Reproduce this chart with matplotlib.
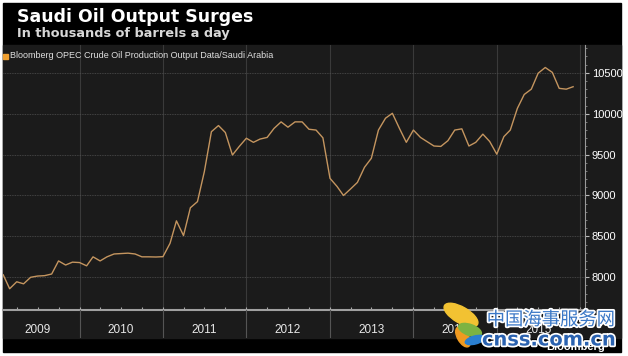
import matplotlib
matplotlib.use("Agg")
import matplotlib.pyplot as plt
import matplotlib.dates as mdates
import matplotlib.patheffects as pe
from matplotlib.patches import Rectangle, Ellipse
from matplotlib.ticker import MultipleLocator
from matplotlib.transforms import IdentityTransform
import pandas as pd

# monthly Saudi crude output, thousands of barrels a day
months = pd.date_range("2009-02-01", periods=83, freq="MS")
output = [
    8030, 7860, 7945, 7920, 8000, 8015, 8020, 8040, 8200, 8150, 8185, 8180,
    8140, 8250, 8200, 8250, 8285, 8290, 8295, 8285, 8250, 8250, 8248, 8252,
    8415, 8690, 8510, 8850, 8925, 9290, 9780, 9855, 9770, 9495, 9600, 9700,
    9650, 9690, 9710, 9820, 9900, 9835, 9900, 9900, 9810, 9800, 9705, 9210,
    9110, 9000, 9080, 9160, 9345, 9455, 9800, 9945, 10005, 9820, 9650, 9800,
    9710, 9660, 9605, 9600, 9670, 9800, 9815, 9605, 9650, 9750, 9660, 9505,
    9720, 9800, 10065, 10235, 10300, 10495, 10565, 10505, 10310, 10300, 10330,
]
years = [2009, 2010, 2011, 2012, 2013, 2014, 2015]
y_ticks = [8000, 8500, 9000, 9500, 10000, 10500]

W, H = 628, 356


def fx(px):
    return px / W


def fy(py):
    return 1 - py / H


fig = plt.figure(figsize=(6.28, 3.56), dpi=100, facecolor="white")

# black frame and dark plot panel (behind the axes)
fig.patches.append(Rectangle((fx(3), fy(352)), 618 / W, 349 / H,
                             transform=fig.transFigure, color="black", zorder=-2))
fig.patches.append(Rectangle((fx(3), fy(338)), 618 / W, 293 / H,
                             transform=fig.transFigure, color="#1b1b1b", zorder=-1))

x0 = pd.Timestamp("2009-01-31")
x1 = pd.Timestamp("2016-01-22")

ax = fig.add_axes([fx(3), fy(310), 582 / W, 265 / H])
ax.set_facecolor("none")
ax.plot(months, output, color="#c4955f", lw=1.0, zorder=3)
ax.set_xlim(x0, x1)
ax.set_ylim(7600, 10840)

for y in range(2010, 2017):
    ax.axvline(pd.Timestamp(y, 1, 1), color="#3a3a3a", lw=0.8, zorder=1)
ax.grid(axis="y", color="#505050", ls=(0, (1, 1)), lw=0.6, zorder=1)

ax.yaxis.tick_right()
ax.set_yticks(y_ticks)
ax.yaxis.set_minor_locator(MultipleLocator(100))
ax.tick_params(axis="y", which="major", colors="#bbbbbb", labelcolor="white",
               length=3, width=0.8, pad=2, labelsize=8)
ax.tick_params(axis="y", which="minor", colors="#888888", length=1.5, width=0.6)
for lab in ax.get_yticklabels():
    lab.set_family("Liberation Sans")

ax.set_xticks([])
ax.xaxis.set_minor_locator(mdates.MonthLocator(bymonth=[1, 4, 7, 10]))
ax.tick_params(axis="x", which="minor", direction="in", length=2,
               width=0.8, colors="#aaaaaa")

for s in ["top", "left"]:
    ax.spines[s].set_visible(False)
ax.spines["right"].set_color("#9a9a9a")
ax.spines["right"].set_linewidth(0.8)
ax.spines["bottom"].set_color("#a0a0a0")
ax.spines["bottom"].set_linewidth(1.5)

# year band under the axis
axb = fig.add_axes([fx(3), fy(338), 582 / W, 28 / H])
axb.set_facecolor("none")
axb.set_xlim(x0, x1)
axb.set_ylim(0, 1)
for y in range(2010, 2016):
    axb.axvline(pd.Timestamp(y, 1, 1), color="#555555", lw=0.8)
for y in years:
    axb.text(pd.Timestamp(y, 7, 1), 0.28, str(y), ha="center", va="center",
             color="#e8e8e8", fontsize=8.5, family="Liberation Sans")
axb.axis("off")

# titles and legend
fig.text(fx(17), fy(17), "Saudi Oil Output Surges", va="center", ha="left",
         fontsize=12.5, weight="bold", color="white")
fig.text(fx(17), fy(33), "In thousands of barrels a day", va="center", ha="left",
         fontsize=9.3, weight="bold", color="#d8d8d8")
fig.patches.append(Rectangle((fx(3), fy(58.5)), 5 / W, 5 / H,
                             transform=fig.transFigure, color="#f0a030", zorder=2))
fig.text(fx(10), fy(56), "Bloomberg OPEC Crude Oil Production Output Data/Saudi Arabia",
         va="center", ha="left", fontsize=6.5, color="#e0e0e0",
         family="Liberation Sans")

# source and watermark
fig.text(fx(605), fy(347), "Bloomberg", ha="right", va="center", fontsize=8,
         weight="bold", color="white", family="Liberation Sans")

idt = IdentityTransform()
fig.patches.append(Ellipse((461, H - 315), 38, 16, angle=-30, transform=idt,
                           color="#f2c232", zorder=5))
fig.patches.append(Ellipse((463, H - 337), 22, 11, angle=-60, transform=idt,
                           color="#f09a20", zorder=5))
fig.patches.append(Ellipse((470, H - 330), 24, 11, angle=-20, transform=idt,
                           color="#7cb342", zorder=5))
fig.patches.append(Ellipse((475, H - 340), 20, 8, angle=15, transform=idt,
                           color="#2a7fd0", zorder=5))

halo = [pe.withStroke(linewidth=2.5, foreground="white")]
fig.text(fx(551), fy(320), "中国海事服务网", ha="center", va="center",
         fontsize=13.2, color="#3b78c6", family=["Noto Sans CJK SC"],
         path_effects=halo, zorder=6)
fig.text(fx(549), fy(340), "cnss.com.cn", ha="center", va="center",
         fontsize=14, weight="bold", color="#2a62b0", path_effects=halo,
         zorder=6)

fig.savefig("out.png", dpi=100, facecolor="white")
